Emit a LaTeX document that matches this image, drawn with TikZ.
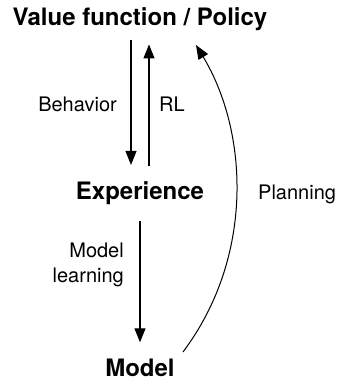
\documentclass[tikz,border=0pt]{standalone}
\usepackage{fontspec}
\setmainfont{TeX Gyre Heros}
\usetikzlibrary{positioning, calc, arrows.meta}

\begin{document}
\begin{tikzpicture}[x=1pt, y=1pt,
    >={Triangle[length=14pt, width=11pt]},
    head/.style={font=\fontsize{24}{28}\selectfont\bfseries, inner sep=0pt, anchor=base},
    lbl/.style={font=\fontsize{20}{25}\selectfont, inner sep=0pt},
    arr/.style={->, line width=1.2pt}]
    \useasboundingbox (0,0) rectangle (339,381);

    % The three boxes of the loop
    \node[head] (vf) at (140,355) {Value function / Policy};
    \node[head] (exp) at (140,181) {Experience};
    \node[head] (model) at (140,5) {Model};

    % Acting and learning between value function and experience
    \draw[arr] ([xshift=-9pt, yshift=-9pt]vf.south) -- ([xshift=-9pt, yshift=17pt]exp.north);
    \draw[arr] ([xshift=9pt, yshift=16pt]exp.north) -- ([xshift=9pt, yshift=-13pt]vf.south);
    \node[lbl, anchor=base east] (behav) at (117,269) {Behavior};
    \node[lbl, anchor=base west] (rl) at (159,269) {RL};

    % Model learning
    \draw[arr] ([yshift=-16pt]exp.south) -- ([yshift=16pt]model.north);
    \node[lbl, anchor=base east] (mlearn1) at (124,123) {Model};
    \node[lbl, anchor=base east] (mlearn2) at (124,98) {learning};

    % Planning back up to the value function
    \coordinate (pstart) at (183,29);
    \coordinate (pend) at (196,336);
    \draw[->, line width=1pt] (pstart) .. controls (255,125) and (248,250) .. (pend);
    \node[lbl, anchor=base west] (plan) at (258,181) {Planning};
\end{tikzpicture}
\end{document}
